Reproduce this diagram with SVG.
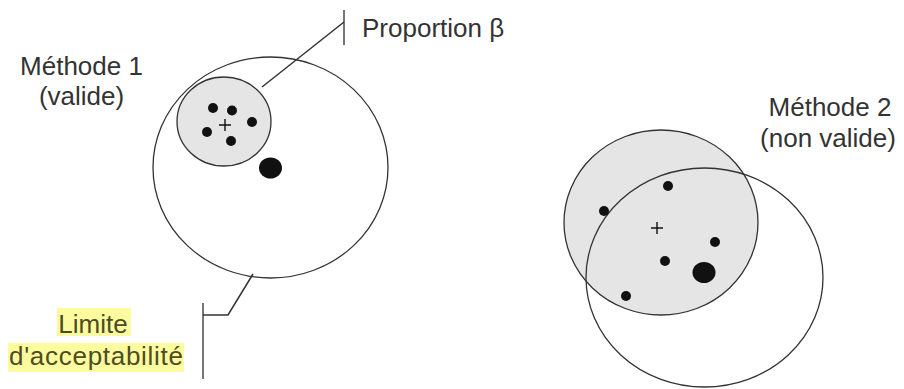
<svg xmlns="http://www.w3.org/2000/svg" width="904" height="389" viewBox="0 0 904 389">
<style>
.lbl{font-family:"Liberation Sans",Arial,sans-serif;font-size:26px;fill:#333;text-anchor:middle}
.lim{fill:#4d4d22}
.ring{fill:none;stroke:#333;stroke-width:1.3}
.shade{fill:#e5e5e5;stroke:#333;stroke-width:1.3}
.dot{fill:#111}
.plus{stroke:#111;stroke-width:1.4;fill:none}
.lead{fill:none;stroke:#333;stroke-width:1.5}
.bar{stroke:#777;stroke-width:2}
.hl{fill:#fdfb9f}
</style>
<rect width="904" height="389" fill="#fff"/>
<g id="methode1">
  <ellipse class="shade" cx="224" cy="121.5" rx="47" ry="44.5"/>
  <ellipse class="ring" cx="270.5" cy="167.5" rx="117.5" ry="110.5"/>
  <circle class="dot" cx="213" cy="108" r="5"/>
  <circle class="dot" cx="232" cy="110.5" r="5"/>
  <circle class="dot" cx="252" cy="122" r="5"/>
  <circle class="dot" cx="207" cy="132" r="5"/>
  <circle class="dot" cx="231" cy="141" r="5"/>
  <path class="plus" d="M219 125h12M225 119v12"/>
  <ellipse class="dot" cx="270.5" cy="168" rx="11.5" ry="10.5"/>
  <text class="lbl" x="81.5" y="75">Méthode 1</text>
  <text class="lbl" x="81.5" y="105">(valide)</text>
</g>
<g id="methode2">
  <ellipse class="shade" cx="661" cy="222.5" rx="97" ry="92.5"/>
  <ellipse class="ring" cx="704.5" cy="277.5" rx="118.5" ry="109.5"/>
  <circle class="dot" cx="668" cy="186" r="5"/>
  <circle class="dot" cx="604" cy="211" r="5"/>
  <circle class="dot" cx="715" cy="242" r="5"/>
  <circle class="dot" cx="665" cy="261" r="5"/>
  <circle class="dot" cx="626" cy="296" r="5"/>
  <path class="plus" d="M651 228h12M657 222v12"/>
  <ellipse class="dot" cx="704" cy="272.5" rx="11.5" ry="10.5"/>
  <text class="lbl" x="830" y="116">Méthode 2</text>
  <text class="lbl" x="828" y="147">(non valide)</text>
</g>
<g id="proportion">
  <text class="lbl" x="362" y="37" style="text-anchor:start">Proportion β</text>
</g>
<g id="limite">
  <rect class="hl" x="57" y="308" width="74" height="28"/>
  <rect class="hl" x="8" y="343" width="176" height="29"/>
  <text class="lbl lim" x="93" y="333">Limite</text>
  <text class="lbl lim" x="96" y="365" textLength="174">d'acceptabilité</text>
</g>
<g id="connectors">
  <line class="bar" x1="344" y1="10" x2="344" y2="45"/>
  <polyline class="lead" points="262,87 344,22"/>
  <line class="bar" x1="203" y1="303" x2="203" y2="379"/>
  <polyline class="lead" points="203,315 228,315 253,274"/>
</g>
</svg>
